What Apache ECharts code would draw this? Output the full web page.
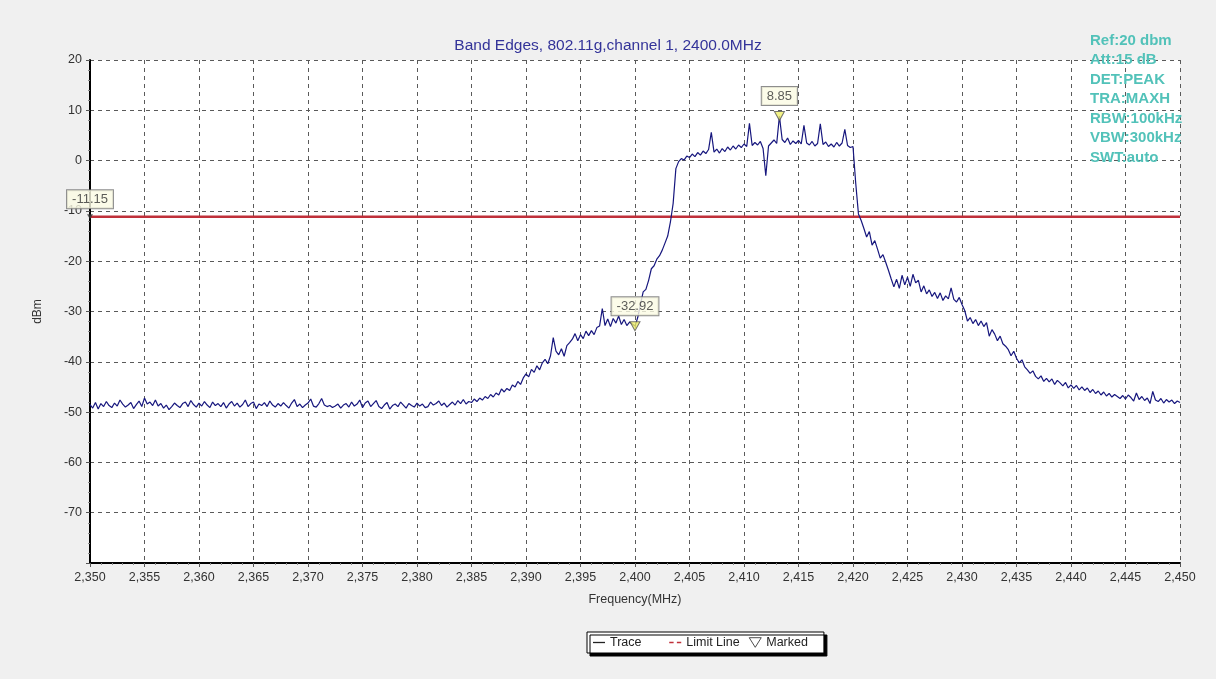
<!DOCTYPE html>
<html>
<head>
<meta charset="utf-8">
<script src="https://cdn.jsdelivr.net/npm/echarts@6/dist/echarts.min.js"></script>
<style>
html,body{margin:0;padding:0;background:#f0f0f0;}
#chart{width:1216px;height:679px;}
</style>
</head>
<body>
<div id="chart"></div>
<script>
// ---- data ----
const titleText = 'Band Edges, 802.11g,channel 1, 2400.0MHz';
const infoLines = ['Ref:20 dbm','Att:15 dB','DET:PEAK','TRA:MAXH','RBW:100kHz','VBW:300kHz','SWT:auto'];
const freqStart = 2350;   // MHz, first sample
const freqStep = 0.25;    // MHz between samples
const xTicks = [2350,2355,2360,2365,2370,2375,2380,2385,2390,2395,2400,2405,2410,2415,2420,2425,2430,2435,2440,2445,2450];
const yTicks = [20,10,0,-10,-20,-30,-40,-50,-60,-70];
const limitValue = -11.15;
const markers = [[2413.25, 8.85], [2400, -32.92]];
const limitMarker = [2350, -11.15];
const traceValues = [
-48.5,-49.2,-48.1,-49.4, -48.3,-48.9,-47.9,-48.7, -49.1,-48.2,-48.8,-47.6, -48.4,-49.0,-48.6,-48.1,
-49.3,-48.5,-47.8,-48.9, -47.2,-48.4,-48.0,-48.7, -47.6,-48.8,-48.3,-49.2, -48.6,-49.5,-48.9,-48.2,
-48.7,-49.1,-48.3,-48.0, -48.9,-47.7,-48.5,-49.0, -48.2,-48.8,-47.9,-48.6, -49.1,-48.0,-48.7,-48.3,
-48.9,-48.1,-49.2,-48.4, -47.9,-48.8,-48.2,-49.0, -48.5,-47.6,-48.9,-48.3, -48.0,-49.3,-48.4,-48.7,
-48.1,-48.9,-47.8,-48.6, -49.0,-48.3,-48.8,-48.1, -48.7,-49.2,-48.2,-47.5, -48.9,-48.4,-49.1,-48.6,
-48.2,-47.4,-48.8,-49.0, -48.3,-47.3,-48.6,-48.9, -48.7,-49.1,-48.8,-48.4, -49.2,-48.6,-48.3,-49.0,
-48.0,-48.8,-48.4,-47.6, -49.1,-48.2,-47.8,-48.9, -48.3,-47.7,-48.9,-49.3, -48.6,-48.1,-49.4,-48.7,
-48.4,-48.9,-48.0,-48.6, -49.2,-48.3,-48.7,-49.0, -48.2,-48.8,-48.4,-49.1, -48.9,-48.0,-48.6,-48.3,
-47.8,-48.7,-48.2,-49.0, -48.5,-48.0,-48.6,-47.7, -48.3,-47.5,-48.4,-47.9, -48.1,-47.4,-47.9,-47.2,
-47.6,-46.9,-47.3,-46.5, -47.0,-46.2,-46.6,-45.4, -46.0,-45.3,-45.7,-44.6, -45.0,-43.9,-44.5,-43.2,
-42.4,-43.0,-41.5,-42.1, -40.8,-41.6,-40.2,-39.5, -40.4,-38.8,-35.2,-37.9, -38.6,-37.4,-38.9,-36.8,
-36.2,-35.5,-34.4,-35.8, -34.6,-35.4,-33.9,-34.8, -33.8,-34.6,-33.2,-32.9, -29.4,-32.8,-31.5,-33.0,
-31.4,-32.3,-30.9,-32.6, -31.6,-32.8,-32.1,-32.5, -32.9,-31.2,-28.6,-26.1, -25.6,-23.8,-21.5,-20.9,
-19.6,-18.9,-17.8,-16.4, -15.0,-12.2,-8.5,-1.6, -0.2,0.4,0.1,0.9, 0.6,1.3,0.8,1.6,
1.1,1.9,1.4,2.2, 5.6,1.7,2.3,1.5, 2.4,1.8,2.7,2.1, 2.9,2.3,3.1,2.6,
3.3,2.8,7.4,3.0, 3.6,3.1,3.8,2.4, -3.0,2.9,3.5,4.1, 3.4,8.85,4.2,3.6,
4.5,3.2,3.9,3.4, 4.0,3.3,7.0,3.5, 3.1,3.8,2.9,3.4, 7.3,3.2,3.7,2.8,
3.3,2.7,3.6,2.9, 3.5,6.2,3.0,2.6, 2.8,-4.5,-10.6,-11.9, -13.5,-15.2,-14.1,-16.8,
-15.9,-17.6,-19.4,-18.7, -20.2,-21.8,-23.5,-25.1, -23.6,-25.4,-22.8,-24.7, -23.2,-25.0,-22.6,-24.3,
-23.8,-26.1,-24.9,-26.5, -25.7,-27.0,-26.2,-27.4, -26.3,-27.8,-26.9,-27.5, -25.3,-27.6,-28.1,-27.2,
-28.6,-29.8,-31.9,-31.2, -32.4,-31.6,-32.8,-31.9, -33.0,-32.2,-34.9,-33.6, -34.5,-35.8,-34.9,-36.4,
-36.9,-37.6,-38.8,-37.9, -39.3,-40.2,-39.6,-41.0, -41.6,-42.3,-41.8,-42.9, -43.4,-42.8,-43.9,-43.3,
-44.0,-43.4,-44.5,-43.7, -44.2,-44.8,-44.1,-45.2, -44.6,-45.3,-44.7,-45.6, -45.0,-45.7,-45.2,-46.1,
-45.5,-46.3,-45.8,-46.6, -46.0,-46.8,-46.3,-47.0, -46.5,-46.9,-47.3,-46.7, -47.4,-46.6,-47.1,-47.8,
-46.2,-47.5,-46.9,-47.7, -47.2,-48.3,-45.9,-47.6, -47.9,-47.3,-48.2,-47.5, -48.0,-47.6,-48.3,-47.8,
-48.1
];

// ---- build ----
const traceData = traceValues.map((v, i) => [freqStart + i * freqStep, v]);
const FONT = '"Liberation Sans", Arial, sans-serif';
const labelBox = {
  show: true, position: 'top', distance: 6,
  formatter: p => p.value[1].toFixed(2),
  backgroundColor: '#fbfbe4', borderColor: '#707070', borderWidth: 1,
  padding: [3, 5, 2, 5], color: '#333', fontSize: 13, fontFamily: FONT
};

const chart = echarts.init(document.getElementById('chart'), null, {renderer: 'canvas'});
chart.setOption({
  backgroundColor: '#f0f0f0',
  animation: false,
  title: {
    text: titleText, left: 'center', top: 33,
    textStyle: {color: '#333399', fontSize: 15.5, fontWeight: 'normal', fontFamily: FONT}
  },
  grid: {left: 90, right: 36, top: 60, bottom: 116, show: true, backgroundColor: '#ffffff', borderWidth: 0},
  xAxis: {
    type: 'value', min: xTicks[0], max: xTicks[xTicks.length - 1], interval: 5,
    name: 'Frequency(MHz)', nameLocation: 'middle', nameGap: 30,
    nameTextStyle: {color: '#333', fontSize: 12.5, fontFamily: FONT},
    axisLine: {show: true, onZero: false, lineStyle: {color: '#000', width: 2}},
    axisTick: {show: true, length: 4, lineStyle: {color: '#555'}},
    minorTick: {show: true, splitNumber: 5, length: 2, lineStyle: {color: '#888'}},
    axisLabel: {color: '#333', fontSize: 12.5, fontFamily: FONT, margin: 8,
      formatter: v => xTicks.indexOf(v) >= 0 ? v.toLocaleString('en-US') : ''},
    splitLine: {show: true, lineStyle: {color: '#5a5a5a', type: [4, 4], width: 1}}
  },
  yAxis: {
    type: 'value', min: -80, max: 20, interval: 10,
    name: 'dBm', nameLocation: 'middle', nameGap: 46, nameRotate: 90,
    nameTextStyle: {color: '#333', fontSize: 12, fontFamily: FONT},
    axisLine: {show: true, onZero: false, lineStyle: {color: '#000', width: 2}},
    axisTick: {show: true, length: 4, lineStyle: {color: '#555'}},
    minorTick: {show: true, splitNumber: 5, length: 2, lineStyle: {color: '#888'}},
    axisLabel: {color: '#333', fontSize: 12.5, fontFamily: FONT, margin: 8,
      formatter: v => yTicks.indexOf(v) >= 0 ? String(v) : ''},
    splitLine: {show: true, lineStyle: {color: '#5a5a5a', type: [4, 4], width: 1}}
  },
  legend: {
    left: 587, top: 632, orient: 'horizontal',
    padding: [4, 16, 4, 6], itemGap: 9, itemWidth: 12, itemHeight: 10,
    backgroundColor: '#ffffff', borderColor: '#000', borderWidth: 1, borderRadius: 0,
    shadowColor: '#000', shadowBlur: 0, shadowOffsetX: 3, shadowOffsetY: 3,
    textStyle: {color: '#222', fontSize: 12.5, fontFamily: FONT},
    selectedMode: false,
    formatter: name => name === 'Trace' ? 'Trace\u2002\u2002\u2002' : name,
    data: [
      {name: 'Trace', icon: 'path://M0,4H12V5.3H0Z', itemStyle: {color: '#222'}},
      {name: 'Limit Line', icon: 'path://M0,4H4V5.6H0Z M7,4H11V5.6H7Z', itemStyle: {color: '#c0303a'}},
      {name: 'Marked', icon: 'path://M1,1L11,1L6,9Z', itemStyle: {color: '#ffffff', borderColor: '#222', borderWidth: 1}}
    ]
  },
  graphic: [{
    type: 'text', left: 1090, top: 31, z: 10,
    style: {
      text: infoLines.join('\n'), fill: '#52c2b9', fontSize: 15, fontWeight: 'bold',
      fontFamily: FONT, lineHeight: 19.5
    }
  }],
  series: [
    {
      name: 'Trace', type: 'line', data: traceData, showSymbol: false, symbol: 'none',
      lineStyle: {color: '#17177e', width: 1.2}, itemStyle: {color: '#17177e'}, z: 3
    },
    {
      name: 'Limit Line', type: 'line', data: [[xTicks[0], limitValue], [xTicks[xTicks.length - 1], limitValue]],
      showSymbol: false, symbol: 'none', lineStyle: {color: '#c0303a', width: 2.5}, itemStyle: {color: '#c0303a'}, z: 2
    },
    {
      name: 'Marked', type: 'scatter', data: markers, symbol: 'triangle', symbolRotate: 180,
      symbolSize: [10, 9], itemStyle: {color: '#f0f068', borderColor: '#555', borderWidth: 1},
      label: labelBox, z: 5
    },
    {
      name: 'LimitMark', type: 'scatter', data: [limitMarker], symbol: 'triangle', symbolRotate: 180,
      symbolSize: [6, 5], itemStyle: {color: '#333'},
      label: Object.assign({}, labelBox, {distance: 6}), z: 5
    }
  ]
});
</script>
</body>
</html>
